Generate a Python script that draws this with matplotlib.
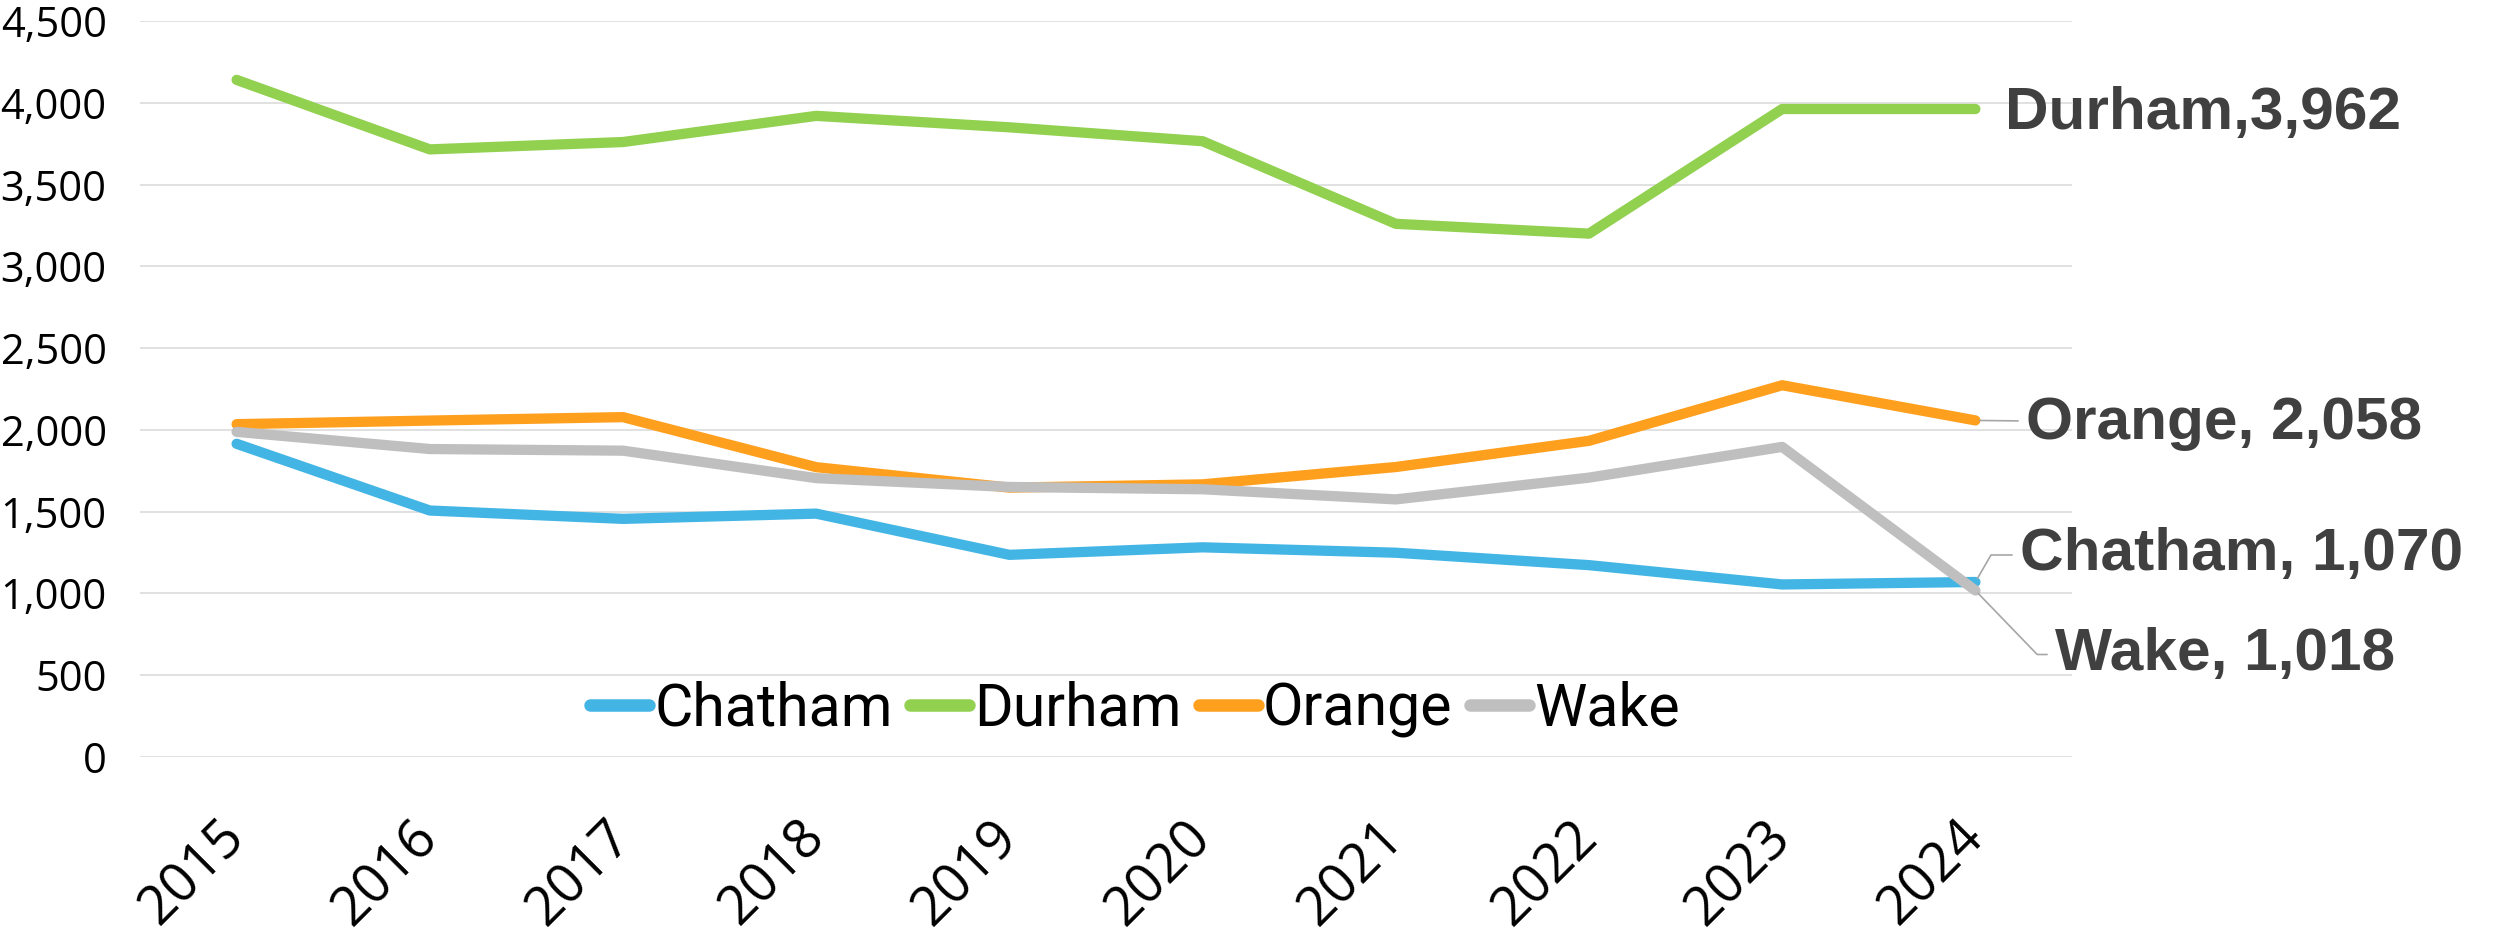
import matplotlib
matplotlib.use("Agg")
import matplotlib.pyplot as plt
from matplotlib.ticker import FuncFormatter

plt.rcParams["font.family"] = ["Open Sans", "DejaVu Sans"]

years = ["2015", "2016", "2017", "2018", "2019", "2020", "2021", "2022", "2023", "2024"]
chatham = [1915, 1507, 1456, 1488, 1236, 1282, 1249, 1173, 1055, 1070]
durham = [4140, 3715, 3760, 3920, 3850, 3765, 3260, 3200, 3962, 3962]
orange = [2035, 2057, 2078, 1772, 1647, 1667, 1773, 1933, 2273, 2058]
wake = [1988, 1883, 1873, 1705, 1651, 1637, 1575, 1708, 1896, 1018]

names = ["Chatham", "Durham", "Orange", "Wake"]
series = [chatham, durham, orange, wake]
colors = ["#43B5E5", "#92D050", "#FF9F1E", "#BFBFBF"]
end_labels = ["Chatham, 1,070", "Durham,3,962", "Orange, 2,058", "Wake, 1,018"]

fig = plt.figure(figsize=(24.98, 9.44), dpi=100)
ax = fig.add_axes([140 / 2498, 1 - 757 / 944, 1932 / 2498, 736 / 944])

x = list(range(len(years)))
for name, vals, c in zip(names, series, colors):
    ax.plot(x, vals, color=c, lw=7.4, solid_capstyle="round",
            solid_joinstyle="round", label=name, zorder=3)

ax.set_xlim(-0.5, len(years) - 0.5)
ax.set_ylim(0, 4500)
ax.set_yticks(range(0, 4501, 500))
ax.yaxis.set_major_formatter(FuncFormatter(lambda v, p: f"{int(v):,}"))
ax.grid(axis="y", color="#D9D9D9", lw=1.1, zorder=0)
ax.set_axisbelow(True)
for s in ax.spines.values():
    s.set_visible(False)

ax.tick_params(axis="y", length=0, pad=24, labelsize=30, labelcolor="#000000")

ax.set_xticks(x)
ax.set_xticklabels(years, rotation=45, ha="right", va="center",
                   rotation_mode="anchor", fontsize=39)
ax.tick_params(axis="x", length=0, pad=52)

# end labels
last = len(years) - 1
lab_font = dict(family="Liberation Sans", weight="bold", fontsize=43.5,
                color="#404040", ha="left", va="center")
lead = dict(arrowstyle="-", color="#A6A6A6", lw=1.2, shrinkA=4, shrinkB=3)

ax.annotate(end_labels[1], (last, durham[-1]), xytext=(30, -5),
            textcoords="offset pixels", **lab_font)
ax.annotate(end_labels[2], (last, orange[-1]), xytext=(51, -3),
            textcoords="offset pixels", arrowprops=lead, **lab_font)
ax.annotate(end_labels[0], (last, chatham[-1]), xytext=(45, 27),
            textcoords="offset pixels",
            arrowprops=dict(lead, connectionstyle="angle,angleA=0,angleB=60,rad=0"),
            **lab_font)
ax.annotate(end_labels[3], (last, wake[-1]), xytext=(80, -64),
            textcoords="offset pixels",
            arrowprops=dict(lead, connectionstyle="angle,angleA=0,angleB=-46,rad=0"),
            **lab_font)

leg = fig.legend(loc="center", bbox_to_anchor=(1135 / 2498, 1 - 709 / 944),
                 ncol=4, frameon=False, handlelength=1.0, handletextpad=0.08,
                 columnspacing=0.3, prop={"family": "Roboto", "size": 42.5})
for h in leg.get_lines():
    h.set_linewidth(9)

fig.savefig("out.png", dpi=100)
